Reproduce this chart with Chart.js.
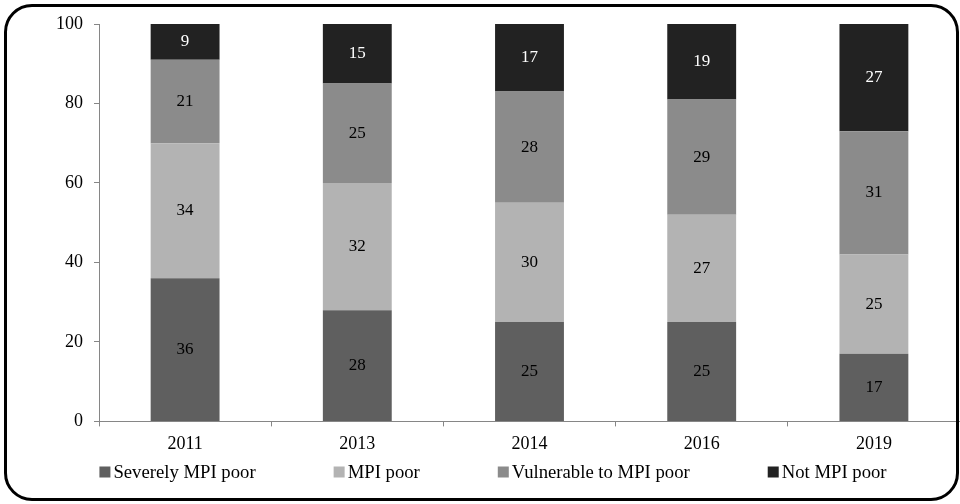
<!DOCTYPE html>
<html>
<head>
<meta charset="utf-8">
<script src="https://cdn.jsdelivr.net/npm/chart.js@4/dist/chart.umd.min.js"></script>
<style>
    html, body { margin: 0; padding: 0; background: #fff; overflow: hidden; }
    #wrap { position: relative; width: 960px; height: 504px; }
    #frame {
        position: absolute; left: 4px; top: 4px; width: 955px; height: 497px;
        box-sizing: border-box; border: 3px solid #000; border-radius: 28px;
        pointer-events: none;
    }
</style>
</head>
<body>
<div id="wrap">
    <canvas id="bieuDo" width="960" height="504"></canvas>
    <div id="frame"></div>
</div>
<script>
const years = ['2011', '2013', '2014', '2016', '2019'];
const severelyPoor = [36, 28, 25, 25, 17];
const mpiPoor = [34, 32, 30, 27, 25];
const vulnerable = [21, 25, 28, 29, 31];
const notPoor = [9, 15, 17, 19, 27];
const yTicks = [0, 20, 40, 60, 80, 100];

const serif = "'Liberation Serif', 'Times New Roman', serif";
const axisColor = '#868686';

// ghi số lên giữa từng đoạn cột
const nhanGiaTri = {
    id: 'nhanGiaTri',
    afterDatasetsDraw(chart) {
        const ctx = chart.ctx;
        ctx.save();
        ctx.font = '17px ' + serif;
        ctx.textAlign = 'center';
        ctx.textBaseline = 'middle';
        chart.data.datasets.forEach((ds, i) => {
            chart.getDatasetMeta(i).data.forEach((bar, j) => {
                const p = bar.getProps(['x', 'y', 'base'], true);
                ctx.fillStyle = ds.labelColor;
                ctx.fillText(ds.data[j], p.x, (p.y + p.base) / 2);
            });
        });
        ctx.restore();
    }
};

// chú thích kiểu Excel: ô vuông nhỏ sát chữ, các mục cách đều nhau
const chuThich = {
    id: 'chuThich',
    afterDraw(chart) {
        const ctx = chart.ctx;
        const box = 11, gapText = 3, gapItem = 78, centerX = 493, y = 472;
        ctx.save();
        ctx.font = '18.7px ' + serif;
        ctx.textBaseline = 'middle';
        const items = chart.data.datasets.map(ds => ({
            text: ds.label,
            color: ds.backgroundColor,
            w: box + gapText + ctx.measureText(ds.label).width
        }));
        const total = items.reduce((s, it) => s + it.w, 0) + gapItem * (items.length - 1);
        let x = centerX - total / 2;
        items.forEach(it => {
            ctx.fillStyle = it.color;
            ctx.fillRect(x, y - box / 2, box, box);
            ctx.fillStyle = '#000';
            ctx.fillText(it.text, x + box + gapText, y + 1);
            x += it.w + gapItem;
        });
        ctx.restore();
    }
};

const data = {
    labels: years,
    datasets: [
        { label: 'Severely MPI poor', data: severelyPoor, backgroundColor: '#5f5f5f', labelColor: '#000' },
        { label: 'MPI poor', data: mpiPoor, backgroundColor: '#b3b3b3', labelColor: '#000' },
        { label: 'Vulnerable to MPI poor', data: vulnerable, backgroundColor: '#8b8b8b', labelColor: '#000' },
        { label: 'Not MPI poor', data: notPoor, backgroundColor: '#222222', labelColor: '#fff' }
    ]
};

const config = {
    type: 'bar',
    data: data,
    plugins: [nhanGiaTri, chuThich],
    options: {
        responsive: false,
        animation: false,
        barPercentage: 0.4,
        categoryPercentage: 1,
        layout: { padding: { left: 26, right: 0, top: 24, bottom: 42 } },
        plugins: {
            tooltip: { enabled: false },
            legend: { display: false }
        },
        scales: {
            x: {
                stacked: true,
                border: { color: axisColor, width: 1 },
                grid: { drawOnChartArea: false, color: axisColor, tickLength: 5, offset: true },
                ticks: { font: { family: serif, size: 18 }, color: '#000', padding: 7 }
            },
            y: {
                stacked: true,
                min: 0,
                max: 100,
                afterFit(scale) { scale.width = 73; },
                afterBuildTicks(scale) { scale.ticks = yTicks.map(v => ({ value: v })); },
                border: { color: axisColor, width: 1 },
                grid: { drawOnChartArea: false, color: axisColor, tickLength: 5 },
                ticks: { font: { family: serif, size: 18 }, color: '#000', padding: 11 }
            }
        }
    }
};

document.fonts.load('18px "Liberation Serif"').then(() => {
    new Chart(document.getElementById('bieuDo').getContext('2d'), config);
});
</script>
</body>
</html>
